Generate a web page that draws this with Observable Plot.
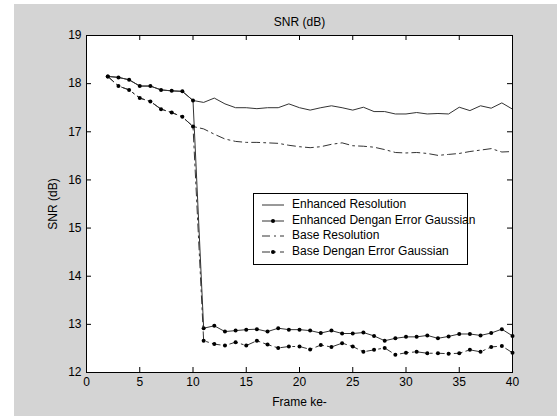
<!DOCTYPE html>
<html>
<head>
<meta charset="utf-8">
<script src="https://cdn.jsdelivr.net/npm/d3@7"></script>
<script src="https://cdn.jsdelivr.net/npm/@observablehq/plot@0.6"></script>
<style>
  html, body { margin: 0; padding: 0; background: #ffffff; }
  #fig { position: absolute; left: 14px; top: 4px; width: 543px; height: 412px; background: #d4d4d4; overflow: hidden; }
  #fig svg { display: block; }
  #legend { position: absolute; left: 239px; top: 189px; width: 213px; height: 67px; background: #fff; border: 1px solid #000;
            font-family: "Liberation Sans", Arial, sans-serif; font-size: 12px; color: #000; padding-top: 3px; box-sizing: content-box; }
  #legend .row { height: 15.5px; line-height: 15.5px; white-space: nowrap; position: relative; }
  #legend svg { position: absolute; left: 7px; top: 2px; }
  #legend span { position: absolute; left: 38px; top: 0; }
</style>
</head>
<body>
<div id="fig"><div id="legend"></div></div>
<script>
// ---- data ----
const frames = [2,3,4,5,6,7,8,9,10,11,12,13,14,15,16,17,18,19,20,21,22,23,24,25,26,27,28,29,30,31,32,33,34,35,36,37,38,39,40];

const enhancedResolution = [18.15,18.13,18.08,17.95,17.95,17.87,17.85,17.84,17.65,17.61,17.70,17.58,17.50,17.50,17.48,17.50,17.50,17.58,17.50,17.45,17.50,17.54,17.50,17.45,17.51,17.42,17.42,17.37,17.37,17.40,17.37,17.38,17.37,17.51,17.44,17.54,17.49,17.60,17.47];

const enhancedGaussian = [18.15,18.13,18.08,17.95,17.95,17.87,17.85,17.84,17.65,12.92,12.97,12.85,12.87,12.89,12.90,12.85,12.92,12.89,12.89,12.87,12.82,12.87,12.81,12.81,12.83,12.76,12.66,12.71,12.74,12.74,12.77,12.71,12.75,12.80,12.80,12.77,12.82,12.90,12.76];

const baseResolution = [18.15,17.95,17.87,17.70,17.63,17.47,17.40,17.31,17.11,17.06,16.95,16.85,16.80,16.78,16.78,16.77,16.76,16.72,16.69,16.67,16.69,16.74,16.77,16.71,16.70,16.68,16.63,16.57,16.56,16.57,16.55,16.51,16.53,16.55,16.59,16.62,16.65,16.58,16.59];

const baseGaussian = [18.15,17.95,17.87,17.70,17.63,17.47,17.40,17.31,17.11,12.66,12.59,12.56,12.63,12.56,12.66,12.58,12.51,12.54,12.54,12.48,12.57,12.53,12.61,12.54,12.43,12.47,12.51,12.37,12.41,12.43,12.40,12.40,12.39,12.40,12.47,12.43,12.53,12.55,12.41];

const seriesNames = ["Enhanced Resolution", "Enhanced Dengan Error Gaussian", "Base Resolution", "Base Dengan Error Gaussian"];
const xTicks = [0,5,10,15,20,25,30,35,40];
const yTicks = [12,13,14,15,16,17,18,19];
const chartTitle = "SNR (dB)";
const xLabel = "Frame ke-";
const yLabel = "SNR (dB)";

// ---- styles ----
const seriesValues = [enhancedResolution, enhancedGaussian, baseResolution, baseGaussian];
const dashes = [null, null, "8,4,2,4", "8,4,2,4"];
const markers = [false, true, false, true];
const lineColor = "#333";

const tables = seriesValues.map((vals, i) => frames.map((f, j) => ({series: seriesNames[i], frame: f, snr: vals[j]})));

const W = 543, H = 412, mL = 72, mT = 31, mR = 45, mB = 44;
const fw = W - mL - mR, fh = H - mT - mB, tk = 5;
const font = "Liberation Sans, Arial, sans-serif";

const marks = [
  Plot.frame({fill: "white", stroke: null}),
  Plot.tickX(xTicks, {x: d => d, insetTop: fh - tk, stroke: "black"}),
  Plot.tickX(xTicks, {x: d => d, insetBottom: fh - tk, stroke: "black"}),
  Plot.tickY(yTicks, {y: d => d, insetRight: fw - tk, stroke: "black"}),
  Plot.tickY(yTicks, {y: d => d, insetLeft: fw - tk, stroke: "black"})
];
tables.forEach((t, i) => {
  marks.push(Plot.line(t, {x: "frame", y: "snr", stroke: lineColor, strokeWidth: 1, strokeDasharray: dashes[i]}));
  if (markers[i]) marks.push(Plot.dot(t, {x: "frame", y: "snr", r: 2, fill: "black", stroke: null}));
});
marks.push(
  Plot.frame({stroke: "black", strokeWidth: 1}),
  Plot.axisX(xTicks, {tickSize: 0, tickPadding: 5, fontSize: 12, label: xLabel, labelAnchor: "center", labelOffset: 33, labelArrow: "none"}),
  Plot.axisY(yTicks, {tickSize: 0, tickPadding: 5, fontSize: 12, label: yLabel, labelAnchor: "center", labelOffset: 38, labelArrow: "none"}),
  Plot.text([chartTitle], {frameAnchor: "top", dy: -13.5, fontSize: 12, fill: "black", lineAnchor: "middle"})
);

const chart = Plot.plot({
  width: W, height: H,
  marginLeft: mL, marginTop: mT, marginRight: mR, marginBottom: mB,
  style: {background: "transparent", fontFamily: font, fontSize: "12px", color: "black", overflow: "visible"},
  x: {domain: [0, 40]},
  y: {domain: [12, 19]},
  marks
});
document.getElementById("fig").insertBefore(chart, document.getElementById("legend"));

// ---- legend ----
const legend = document.getElementById("legend");
seriesNames.forEach((name, i) => {
  const row = document.createElement("div");
  row.className = "row";
  const ns = "http://www.w3.org/2000/svg";
  const svg = document.createElementNS(ns, "svg");
  svg.setAttribute("width", 26); svg.setAttribute("height", 12);
  const ln = document.createElementNS(ns, "line");
  ln.setAttribute("x1", 1); ln.setAttribute("x2", 23); ln.setAttribute("y1", 6); ln.setAttribute("y2", 6);
  ln.setAttribute("stroke", lineColor);
  if (dashes[i]) ln.setAttribute("stroke-dasharray", dashes[i]);
  svg.appendChild(ln);
  if (markers[i]) {
    const c = document.createElementNS(ns, "circle");
    c.setAttribute("cx", 12); c.setAttribute("cy", 6); c.setAttribute("r", 2); c.setAttribute("fill", "black");
    svg.appendChild(c);
  }
  const sp = document.createElement("span");
  sp.textContent = name;
  row.appendChild(svg); row.appendChild(sp);
  legend.appendChild(row);
});
</script>
</body>
</html>
